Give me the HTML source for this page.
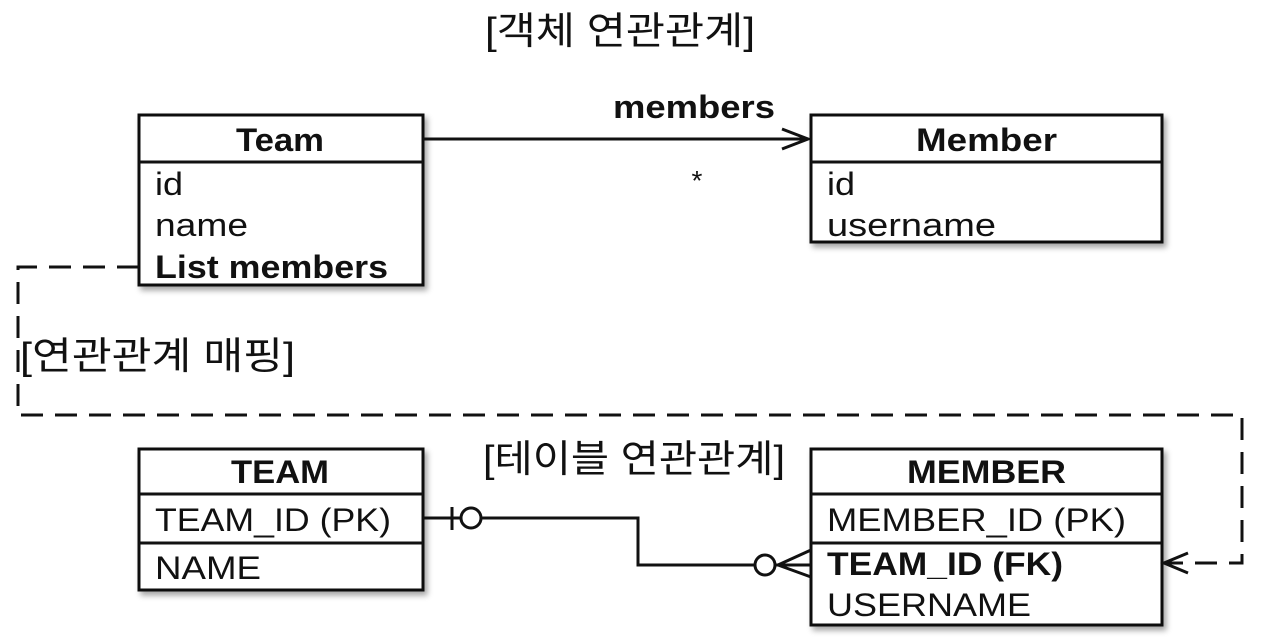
<!DOCTYPE html>
<html><head><meta charset="utf-8"><style>
body{margin:0;background:#fff;}
svg text{font-family:"Liberation Sans","Noto Sans CJK KR",sans-serif;fill:#111;}
</style></head><body>
<svg width="1268" height="638" viewBox="0 0 1268 638" xmlns="http://www.w3.org/2000/svg">
<defs><filter id="sh" x="-10%" y="-10%" width="130%" height="130%"><feDropShadow dx="3" dy="4" stdDeviation="3" flood-color="#000" flood-opacity="0.35"/></filter></defs>
<text x="485" y="44" font-size="38" textLength="270" lengthAdjust="spacingAndGlyphs" fill="#222">[객체 연관관계]</text>
<text x="613" y="118" font-size="32" font-weight="bold" textLength="162" lengthAdjust="spacingAndGlyphs">members</text>
<text x="697" y="190" font-size="28" text-anchor="middle">*</text>
<g fill="#fff" stroke="#111" stroke-width="3" filter="url(#sh)">
<rect x="139" y="115" width="284" height="170"/>
<rect x="811" y="115" width="351" height="127"/>
<rect x="139" y="449" width="284" height="141"/>
<rect x="811" y="449" width="351" height="176"/>
</g>
<g stroke="#111" stroke-width="3">
<line x1="139" y1="162" x2="423" y2="162"/>
<line x1="811" y1="162" x2="1162" y2="162"/>
<line x1="139" y1="494" x2="423" y2="494"/>
<line x1="139" y1="543" x2="423" y2="543"/>
<line x1="811" y1="494" x2="1162" y2="494"/>
<line x1="811" y1="543" x2="1162" y2="543"/>
</g>
<g font-size="32">
<text x="236" y="151" font-weight="bold" textLength="88" lengthAdjust="spacingAndGlyphs">Team</text>
<text x="155" y="195" fill="#222" textLength="28" lengthAdjust="spacingAndGlyphs">id</text>
<text x="155" y="236" fill="#222" textLength="93" lengthAdjust="spacingAndGlyphs">name</text>
<text x="155" y="278" font-weight="bold" textLength="233" lengthAdjust="spacingAndGlyphs">List members</text>
<text x="916" y="151" font-weight="bold" textLength="141" lengthAdjust="spacingAndGlyphs">Member</text>
<text x="827" y="195" fill="#222" textLength="28" lengthAdjust="spacingAndGlyphs">id</text>
<text x="827" y="236" fill="#222" textLength="169" lengthAdjust="spacingAndGlyphs">username</text>
<text x="231" y="483" font-weight="bold" textLength="98" lengthAdjust="spacingAndGlyphs">TEAM</text>
<text x="155" y="531" fill="#333" textLength="236" lengthAdjust="spacingAndGlyphs">TEAM_ID (PK)</text>
<text x="155" y="579" fill="#333" textLength="106" lengthAdjust="spacingAndGlyphs">NAME</text>
<text x="907" y="483" font-weight="bold" textLength="159" lengthAdjust="spacingAndGlyphs">MEMBER</text>
<text x="827" y="531" fill="#333" textLength="299" lengthAdjust="spacingAndGlyphs">MEMBER_ID (PK)</text>
<text x="827" y="575" font-weight="bold" textLength="236" lengthAdjust="spacingAndGlyphs">TEAM_ID (FK)</text>
<text x="827" y="616" fill="#333" textLength="204" lengthAdjust="spacingAndGlyphs">USERNAME</text>
</g>
<text x="20" y="369" font-size="38" fill="#222" textLength="275" lengthAdjust="spacingAndGlyphs">[연관관계 매핑]</text>
<text x="483" y="472" font-size="38" fill="#222" textLength="302" lengthAdjust="spacingAndGlyphs">[테이블 연관관계]</text>
<g stroke="#111" stroke-width="3" fill="none">
<line x1="423" y1="139" x2="808" y2="139"/>
<polyline points="782,129 808,139 782,149"/>
<polyline points="139,267 18,267 18,415 1242,415 1242,563 1164,563" stroke-dasharray="22,12"/>
<polyline points="1188,553 1164,563 1188,573"/>
<line x1="423" y1="518" x2="462" y2="518"/>
<line x1="452" y1="507" x2="452" y2="530"/>
<circle cx="471" cy="518" r="10"/>
<polyline points="481,518 638,518 638,565 755,565"/>
<circle cx="765" cy="565" r="10"/>
<line x1="775" y1="565" x2="811" y2="565"/>
<line x1="778" y1="565" x2="811" y2="550"/>
<line x1="778" y1="565" x2="811" y2="577"/>
</g>
</svg>
</body></html>
